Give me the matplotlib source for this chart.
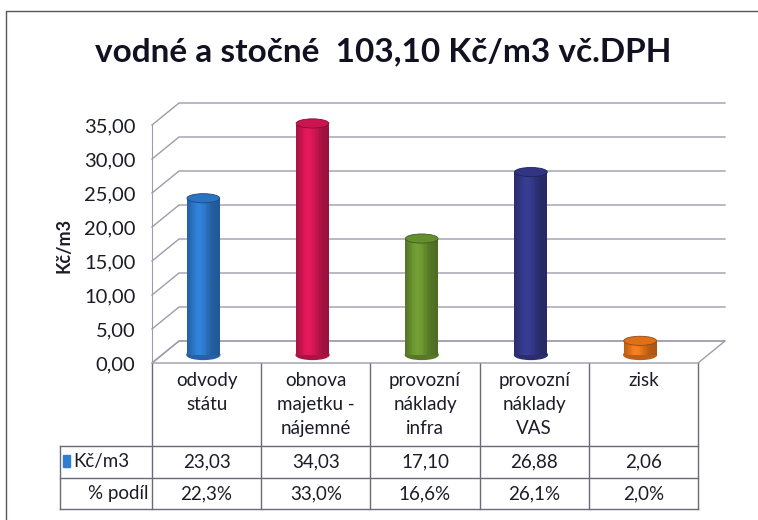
import matplotlib
matplotlib.use('Agg')
import matplotlib.pyplot as plt
import matplotlib.colors as mcolors
from matplotlib.patches import Ellipse, Polygon, Rectangle
import numpy as np

plt.rcParams['font.family'] = ['Lato', 'DejaVu Sans']

# ----------------------------------------
# Data
# ----------------------------------------
categories = ['odvody\nstátu', 'obnova\nmajetku -\nnájemné', 'provozní\nnáklady\ninfra',
              'provozní\nnáklady\nVAS', 'zisk']
values = [23.03, 34.03, 17.10, 26.88, 2.06]      # Kč/m3
shares = [22.3, 33.0, 16.6, 26.1, 2.0]           # % podíl
bar_colors = ['#2f7dd3', '#dc1857', '#6e9a32', '#363a8e', '#f27a1c']
yticks = [0, 5, 10, 15, 20, 25, 30, 35]
title = 'vodné a stočné  103,10 Kč/m3 vč.DPH'
series_name = 'Kč/m3'
share_name = '% podíl'

W, H = 758, 520
fig = plt.figure(figsize=(W / 100, H / 100), dpi=100)

# ----------------------------------------
# Pixel overlay: frame, title, data table
# ----------------------------------------
bg = fig.add_axes([0, 0, 1, 1])
bg.set_xlim(0, W)
bg.set_ylim(H, 0)
bg.axis('off')

txt = '#1c1c28'
gc = '#9c9cae'      # grid colour
tc = '#6a6a78'      # table line colour
fs = 13.5

# ----------------------------------------
# Main axes = front plane of the 3D box
# ----------------------------------------
x0, x1, y0, y1 = 152, 698, 363, 125
n = len(values)
ax = fig.add_axes([x0 / W, 1 - y0 / H, (x1 - x0) / W, (y0 - y1) / H])
ax.patch.set_alpha(0)
ax.set_xlim(-0.5, n - 0.5)
ax.set_ylim(0, 35)
for s in ['top', 'right', 'bottom']:
    ax.spines[s].set_visible(False)
ax.spines['left'].set_color(gc)
ax.set_xticks([])
ax.set_yticks(yticks)
ax.set_yticklabels([f'{v:.2f}'.replace('.', ',') for v in yticks])
ax.tick_params(axis='y', length=0, pad=12, labelsize=14.5, labelcolor=txt)

# depth offset of back wall (27 px right, 22 px up)
dx = 27 / ((x1 - x0) / n)
dy = 22 / ((y0 - y1) / 35)

# floor
ax.add_patch(Polygon([(-0.5, 0), (n - 0.5, 0), (n - 0.5 + dx, dy), (-0.5 + dx, dy)],
                     closed=True, facecolor='white', edgecolor=gc, lw=1, clip_on=False, zorder=1))
# side wall + back wall gridlines
for v in yticks:
    ax.plot([-0.5, -0.5 + dx, n - 0.5 + dx], [v, v + dy, v + dy],
            color=gc, lw=1, clip_on=False, zorder=1.5)

# cylinders
w = 0.30
eh = 1.35
base = 1.2
N = 24
t = (np.arange(N) + 0.5) / N
shade = 0.70 + 0.34 * np.exp(-((t - 0.38) / 0.30) ** 2)
for i, (v, c) in enumerate(zip(values, bar_colors)):
    cx = i - 0.03
    rgb = np.array(mcolors.to_rgb(c))
    cols = np.clip(rgb[None, :] * shade[:, None], 0, 1)
    xs = cx - w / 2 + t * w
    ax.add_patch(Ellipse((cx, base), w, eh, color=rgb * 0.78, zorder=2.9, clip_on=False))
    ax.bar(xs, v, bottom=base, width=w / N * 1.08, color=cols, linewidth=0, zorder=3)
    ax.add_patch(Ellipse((cx, base + v), w, eh, facecolor=np.clip(rgb * 0.92, 0, 1),
                         edgecolor=rgb * 0.6, lw=0.6, zorder=4, clip_on=False))

# ----------------------------------------
# Data table
# ----------------------------------------
tl = 60
r0, r1, r2, r3 = y0, 446, 478, 509
colw = (x1 - x0) / n
edges = [x0 + k * colw for k in range(n + 1)]
for y in [r1, r2, r3]:
    bg.plot([tl, x1], [y, y], color=tc, lw=1)
bg.plot([tl, tl], [r1, r3], color=tc, lw=1)
for x in edges:
    bg.plot([x, x], [r0, r3], color=tc, lw=1)

for k, cat in enumerate(categories):
    cxp = x0 + (k + 0.5) * colw
    bg.text(cxp, 372, cat, ha='center', va='top', fontsize=fs, color=txt, linespacing=1.5)
    bg.text(cxp, (r1 + r2) / 2, f'{values[k]:.2f}'.replace('.', ','),
            ha='center', va='center', fontsize=fs, color=txt)
    bg.text(cxp, (r2 + r3) / 2, f'{shares[k]:.1f}%'.replace('.', ','),
            ha='center', va='center', fontsize=fs, color=txt)

bg.add_patch(Rectangle((63, 455), 7, 12, color=bar_colors[0]))
bg.text(73, (r1 + r2) / 2, series_name, ha='left', va='center', fontsize=fs, color=txt)
bg.text(148, (r2 + r3) / 2, share_name, ha='right', va='center', fontsize=fs, color=txt)

# y label, title, outer frame
bg.text(64, 245, 'Kč/m3', rotation=90, ha='center', va='center',
        fontsize=13, fontweight='bold', color=txt)
bg.text(383, 52, title, ha='center', va='center', fontsize=24, fontweight='bold', color='#111122')
bg.plot([6, 6, W], [H, 11, 11], color='#55555f', lw=1)

fig.savefig('out.png', dpi=100)
